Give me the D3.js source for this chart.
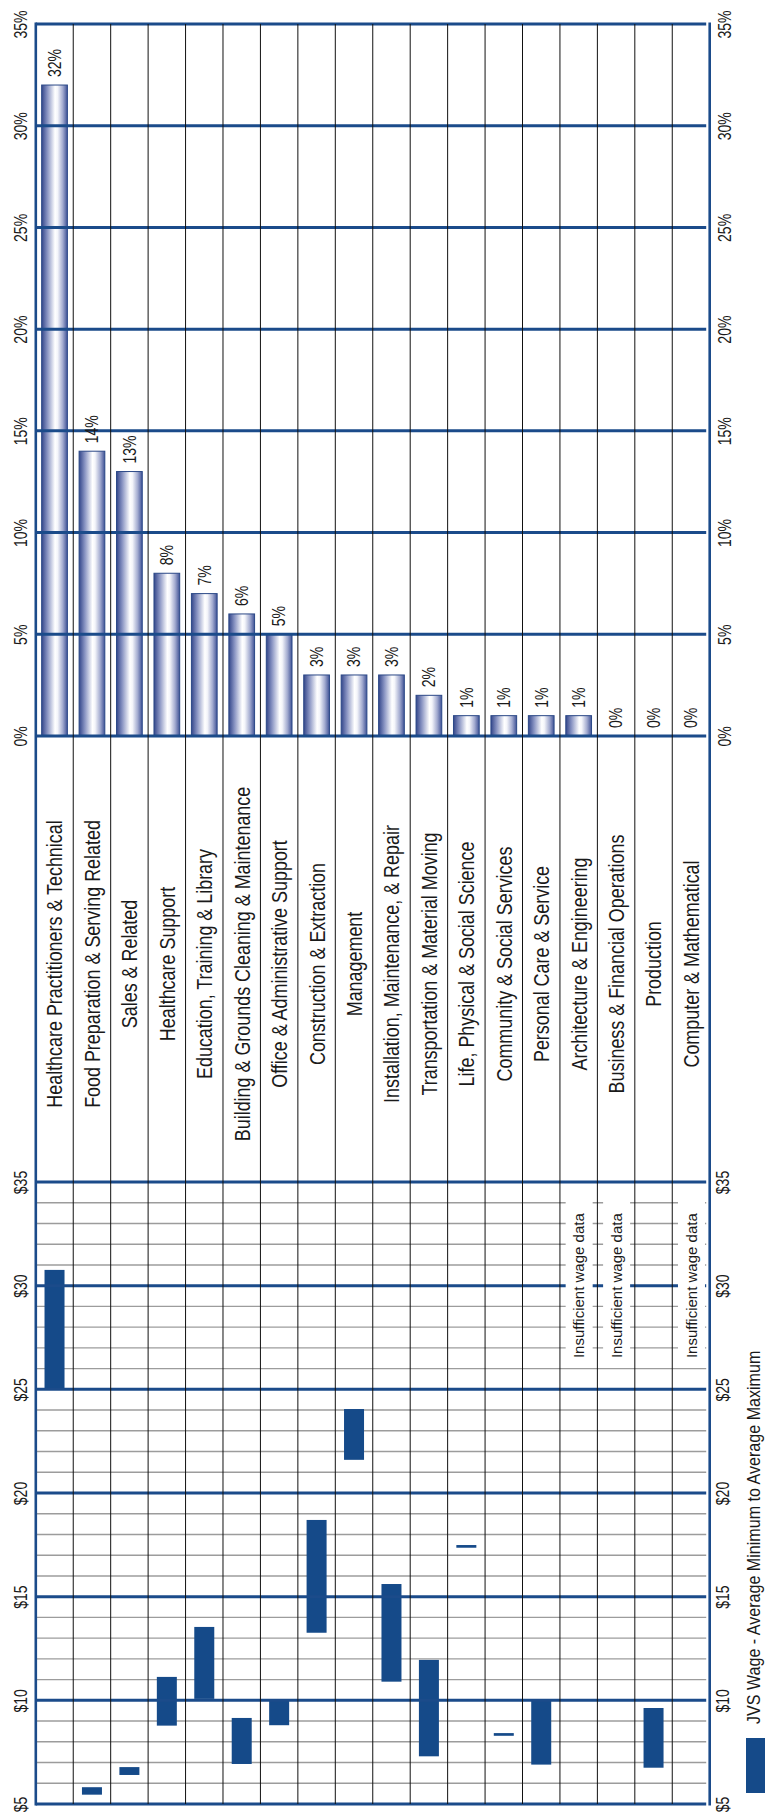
<!DOCTYPE html>
<html>
<head>
<meta charset="utf-8">
<script src="https://cdn.jsdelivr.net/npm/d3@7/dist/d3.min.js"></script>
<style>
  html, body { margin: 0; padding: 0; background: #fff; }
  svg { display: block; }
</style>
</head>
<body>
<svg id="chart" width="765" height="1818"></svg>
<script>
// Occupation groups, in chart order
const categories = [
  "Healthcare Practitioners & Technical",
  "Food Preparation & Serving Related",
  "Sales & Related",
  "Healthcare Support",
  "Education, Training & Library",
  "Building & Grounds Cleaning & Maintenance",
  "Office & Administrative Support",
  "Construction & Extraction",
  "Management",
  "Installation, Maintenance, & Repair",
  "Transportation & Material Moving",
  "Life, Physical & Social Science",
  "Community & Social Services",
  "Personal Care & Service",
  "Architecture & Engineering",
  "Business & Financial Operations",
  "Production",
  "Computer & Mathematical"
];

// Share of job openings (%)
const sharePct = [32, 14, 13, 8, 7, 6, 5, 3, 3, 3, 2, 1, 1, 1, 1, 0, 0, 0];

// Hourly wage range ($): average minimum and average maximum (null = insufficient data)
const wageMin = [25.0, 5.45, 6.40, 8.78, 10.07, 6.93, 8.80, 13.26, 21.60, 10.90, 7.30, 17.36, 8.29, 6.90, null, null, 6.75, null];
const wageMax = [30.76, 5.81, 6.78, 11.13, 13.54, 9.15, 10.00, 18.70, 24.05, 15.61, 11.95, 17.49, 8.42, 10.00, null, null, 9.63, null];

// Axis ticks
const pctTicks = [0, 5, 10, 15, 20, 25, 30, 35];
const wageTicks = [5, 10, 15, 20, 25, 30, 35];

const noteText = "Insufficient wage data";
const legendText = "JVS Wage - Average Minimum to Average Maximum";

// ---- layout ----
const FONT = "'Liberation Sans', Arial, Helvetica, sans-serif";
const TEXT = "#1a1a1a";
const BLUE = "#1b4b8a";
const BAR_BLUE = "#154a89";

const left = 35.8, right = 709.7;
const pctTop = 24, pctBottom = 736;
const wageTop = 1182, wageBottom = 1804;
const lineEnd = right - 3.5;
const bandMid = 964;
const noteAt = 30;

const svg = d3.select("#chart");

const x = d3.scaleBand().domain(categories).range([left, right]);
const bw = x.bandwidth();
const yPct = d3.scaleLinear().domain([0, 35]).range([pctBottom, pctTop]);
const yWage = d3.scaleLinear().domain([5, 35]).range([wageBottom, wageTop]);

const rows = categories.map((c, i) => ({
  cat: c, pct: sharePct[i], lo: wageMin[i], hi: wageMax[i]
}));

// cylinder-like shading for the share bars
const grad = svg.append("defs").append("linearGradient")
  .attr("id", "barShade").attr("x1", 0).attr("x2", 1).attr("y1", 0).attr("y2", 0);
[
  [0, "#33468a"], [0.22, "#8893c2"], [0.52, "#ffffff"], [0.62, "#f4f5fa"],
  [0.82, "#a3abd0"], [1, "#3f5296"]
].forEach(([o, c]) => grad.append("stop").attr("offset", o).attr("stop-color", c));

// minor $1 grid in the wage panel
svg.append("g").selectAll("line")
  .data(yWage.ticks(30).filter(v => v % 5 !== 0))
  .join("line")
  .attr("x1", left).attr("x2", lineEnd)
  .attr("y1", d => yWage(d)).attr("y2", d => yWage(d))
  .attr("stroke", "#9c9c9c").attr("stroke-width", 1.4);

// wage range bars
svg.append("g").selectAll("rect")
  .data(rows.filter(d => d.lo != null))
  .join("rect")
  .attr("x", d => x(d.cat) + bw / 2 - 10)
  .attr("width", 20)
  .attr("y", d => yWage(d.hi))
  .attr("height", d => Math.max(yWage(d.lo) - yWage(d.hi), 2.5))
  .attr("fill", BAR_BLUE);

// share bars
const bwBar = bw * 0.687;
svg.append("g").selectAll("rect")
  .data(rows.filter(d => d.pct > 0))
  .join("rect")
  .attr("x", d => x(d.cat) + (bw - bwBar) / 2)
  .attr("width", bwBar)
  .attr("y", d => yPct(d.pct))
  .attr("height", d => yPct(0) - yPct(d.pct))
  .attr("fill", "url(#barShade)")
  .attr("stroke", "#2b4887").attr("stroke-width", 1);

// major blue grid lines
svg.append("g").selectAll("line")
  .data(pctTicks)
  .join("line")
  .attr("x1", left).attr("x2", lineEnd)
  .attr("y1", d => yPct(d)).attr("y2", d => yPct(d))
  .attr("stroke", BLUE).attr("stroke-width", 3);
svg.append("g").selectAll("line")
  .data(wageTicks)
  .join("line")
  .attr("x1", left).attr("x2", lineEnd)
  .attr("y1", d => yWage(d)).attr("y2", d => yWage(d))
  .attr("stroke", BLUE).attr("stroke-width", 3);

// white panels behind the "insufficient data" notes
const notes = rows.filter(d => d.lo == null);
const noteG = svg.append("g");
noteG.selectAll("text")
  .data(notes)
  .join("text")
  .attr("transform", d => `translate(${x(d.cat) + bw / 2 + 0.37 * 15},${yWage(noteAt)}) rotate(-90)`)
  .attr("text-anchor", "middle")
  .attr("font-family", FONT).attr("font-size", 15).attr("fill", TEXT)
  .text(noteText)
  .each(function (d) { d.len = this.getComputedTextLength(); });
noteG.selectAll("rect")
  .data(notes)
  .join("rect")
  .attr("x", d => x(d.cat) + bw / 2 - 13)
  .attr("width", 27)
  .attr("y", d => yWage(noteAt) - d.len / 2 - 13)
  .attr("height", d => d.len + 18)
  .attr("fill", "#fff")
  .lower();

// vertical category dividers
svg.append("g").selectAll("line")
  .data(categories.slice(1))
  .join("line")
  .attr("x1", d => x(d)).attr("x2", d => x(d))
  .attr("y1", pctTop).attr("y2", wageBottom)
  .attr("stroke", "#111").attr("stroke-width", 1);

// outer frame sides
svg.append("g").selectAll("line")
  .data([left, right])
  .join("line")
  .attr("x1", d => d).attr("x2", d => d)
  .attr("y1", pctTop - 1.5).attr("y2", wageBottom + 1.5)
  .attr("stroke", BLUE).attr("stroke-width", 2.6);

// rotated tick labels via d3 axes
const TK = 0.8;
function styleTicks(g) {
  g.select(".domain").remove();
  g.attr("font-family", FONT).attr("font-size", 17.5);
  g.selectAll(".tick text")
    .attr("x", 0).attr("dy", 0).attr("y", 0)
    .attr("text-anchor", "middle")
    .attr("fill", TEXT)
    .attr("transform", `rotate(-90) scale(${TK},1)`);
}
svg.append("g").attr("transform", "translate(26.5,0)")
  .call(d3.axisLeft(yPct).tickValues(pctTicks).tickFormat(d => d + "%").tickSize(0))
  .call(styleTicks);
svg.append("g").attr("transform", "translate(731,0)")
  .call(d3.axisRight(yPct).tickValues(pctTicks).tickFormat(d => d + "%").tickSize(0))
  .call(styleTicks);
svg.append("g").attr("transform", "translate(26.5,0)")
  .call(d3.axisLeft(yWage).tickValues(wageTicks).tickFormat(d => "$" + d).tickSize(0))
  .call(styleTicks);
svg.append("g").attr("transform", "translate(729,0)")
  .call(d3.axisRight(yWage).tickValues(wageTicks).tickFormat(d => "$" + d).tickSize(0))
  .call(styleTicks);

// share value labels
svg.append("g").selectAll("text")
  .data(rows)
  .join("text")
  .attr("transform", d => `translate(${x(d.cat) + bw / 2 + 0.36 * 17.5},${yPct(d.pct) - 8}) rotate(-90) scale(${TK},1)`)
  .attr("text-anchor", "start")
  .attr("font-family", FONT).attr("font-size", 17.5).attr("fill", TEXT)
  .text(d => d.pct + "%");

// category names in the middle band
svg.append("g").selectAll("text")
  .data(rows)
  .join("text")
  .attr("transform", d => `translate(${x(d.cat) + bw / 2 + 0.36 * 22},${bandMid}) rotate(-90) scale(0.815,1)`)
  .attr("text-anchor", "middle")
  .attr("font-family", FONT).attr("font-size", 22).attr("fill", TEXT)
  .text(d => d.cat);

// legend
svg.append("rect")
  .attr("x", 746).attr("y", 1738).attr("width", 30).attr("height", 55)
  .attr("fill", BAR_BLUE);
svg.append("text")
  .attr("transform", "translate(760,1724) rotate(-90) scale(0.92,1)")
  .attr("text-anchor", "start")
  .attr("font-family", FONT).attr("font-size", 17.5).attr("fill", TEXT)
  .text(legendText);
</script>
</body>
</html>
